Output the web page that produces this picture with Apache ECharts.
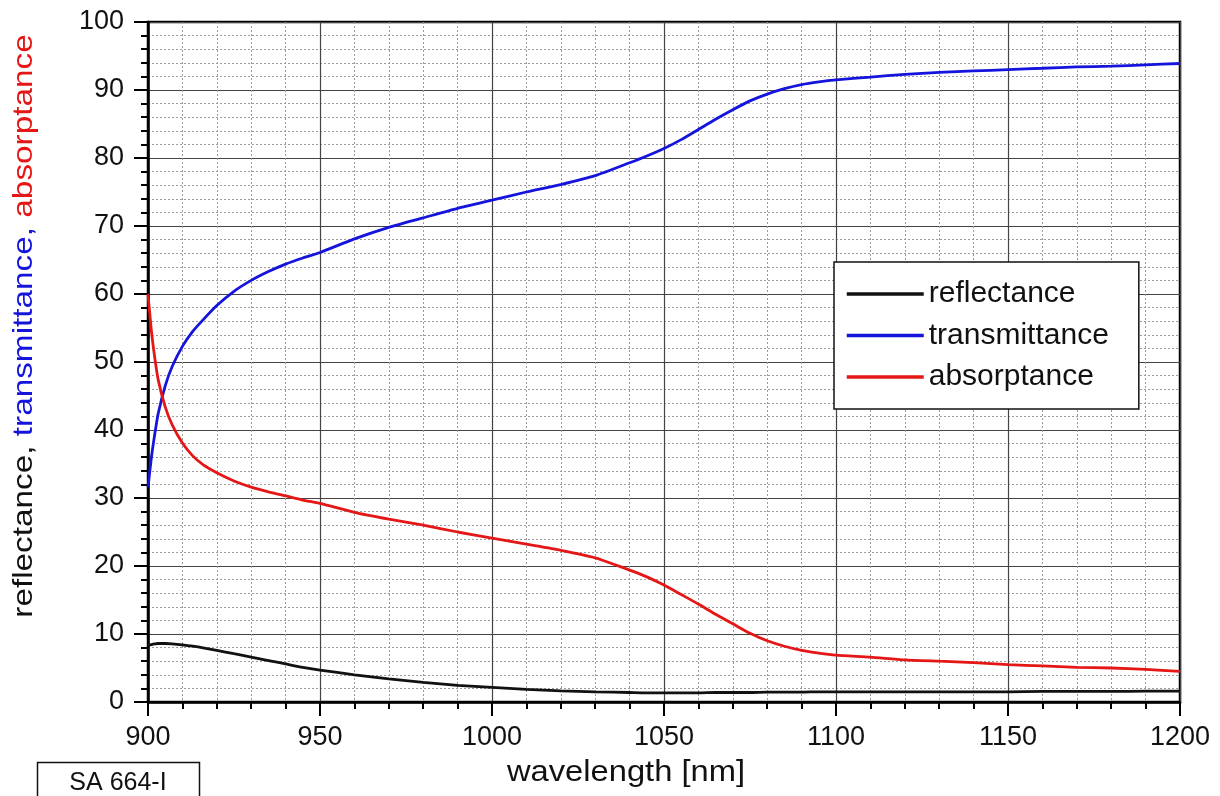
<!DOCTYPE html>
<html>
<head>
<meta charset="utf-8">
<script src="https://cdn.jsdelivr.net/npm/echarts@6/dist/echarts.min.js"></script>
<style>
html,body{margin:0;padding:0;background:#fff;}
#chart{width:1220px;height:796px;}
</style>
</head>
<body>
<div id="chart"></div>
<script>
// wavelength [nm]
var wavelength = [900,901,902,903,905,907,910,913,916,920,925,930,935,940,945,950,960,970,980,990,1000,1010,1020,1030,1040,1045,1050,1055,1060,1065,1070,1075,1080,1085,1090,1095,1100,1110,1120,1130,1140,1150,1160,1170,1180,1190,1200];
var reflectance = [8.3,8.45,8.55,8.6,8.6,8.55,8.4,8.2,7.95,7.6,7.1,6.6,6.1,5.6,5.1,4.7,4.0,3.4,2.9,2.45,2.15,1.85,1.65,1.5,1.4,1.35,1.35,1.35,1.35,1.4,1.4,1.4,1.45,1.45,1.45,1.5,1.5,1.5,1.5,1.5,1.5,1.5,1.55,1.55,1.55,1.6,1.6];
var transmittance = [31.6,36,39.5,42.5,46.5,49.3,52.3,54.5,56.2,58.3,60.4,62.0,63.3,64.4,65.3,66.1,68.1,69.8,71.2,72.6,73.8,75,76.1,77.4,79.3,80.3,81.4,82.7,84.2,85.7,87.1,88.4,89.4,90.2,90.8,91.2,91.5,91.9,92.3,92.6,92.8,93,93.2,93.4,93.5,93.7,93.9];
var absorptance = [60,54.5,50.5,47.3,43.4,40.8,38.1,36.2,34.9,33.7,32.5,31.6,30.9,30.3,29.7,29.2,27.9,26.9,26,25,24.1,23.2,22.3,21.2,19.4,18.4,17.2,15.8,14.4,12.9,11.5,10.1,9,8.2,7.6,7.2,6.9,6.6,6.2,6,5.8,5.5,5.3,5.1,5,4.8,4.5];
var seriesNames = ['reflectance','transmittance','absorptance'];
var xTitle = 'wavelength [nm]';
var sampleLabel = 'SA 664-I';

function pairs(ys){ return wavelength.map(function(w,i){ return [w, ys[i]]; }); }

var FONT = '"Liberation Sans", Arial, Helvetica, sans-serif';
var chart = echarts.init(document.getElementById('chart'), null, {renderer:'canvas'});
var option = {
  backgroundColor:'#ffffff',
  animation:false,
  textStyle:{fontFamily:FONT},
  grid:{left:148,right:40,top:22,bottom:94,show:true,borderColor:'#000',borderWidth:2.5,backgroundColor:'transparent'},
  xAxis:{
    type:'value',min:900,max:1200,interval:50,
    axisLine:{show:true,onZero:false,lineStyle:{color:'#000',width:2.5}},
    axisTick:{show:true,inside:false,length:14,lineStyle:{color:'#000',width:2}},
    minorTick:{show:true,splitNumber:5,length:7,lineStyle:{color:'#000',width:2}},
    axisLabel:{fontSize:27,color:'#111',margin:22,fontFamily:FONT,formatter:function(v){return String(v);}},
    splitLine:{show:true,lineStyle:{color:'#444',width:1.2}},
    minorSplitLine:{show:true,lineStyle:{color:'#9a9a9a',width:1,type:[2,2]}}
  },
  yAxis:{
    type:'value',min:0,max:100,interval:10,
    axisLine:{show:true,onZero:false,lineStyle:{color:'#000',width:2.5}},
    axisTick:{show:true,inside:false,length:14,lineStyle:{color:'#000',width:2}},
    minorTick:{show:true,splitNumber:5,length:7,lineStyle:{color:'#000',width:2}},
    axisLabel:{fontSize:27,color:'#111',margin:24,fontFamily:FONT,formatter:function(v){return String(v);}},
    splitLine:{show:true,lineStyle:{color:'#444',width:1.2}},
    minorSplitLine:{show:true,lineStyle:{color:'#9a9a9a',width:1,type:[2,2]}}
  },
  legend:{
    orient:'vertical',left:834,top:262,
    padding:[17,30,17,11],
    itemWidth:77,itemHeight:14,itemGap:11.5,
    backgroundColor:'#fff',borderColor:'#111',borderWidth:1.5,
    itemStyle:{opacity:0},
    lineStyle:{width:3.5},
    textStyle:{fontSize:30,color:'#111',lineHeight:30,fontFamily:FONT},
    data:seriesNames
  },
  series:[
    {name:seriesNames[0],type:'line',data:pairs(reflectance),symbol:'none',smooth:0.2,lineStyle:{color:'#111',width:2.8},itemStyle:{color:'#111'},z:3},
    {name:seriesNames[1],type:'line',data:pairs(transmittance),symbol:'none',smooth:0.2,lineStyle:{color:'#1414dc',width:2.8},itemStyle:{color:'#1414dc'},z:3},
    {name:seriesNames[2],type:'line',data:pairs(absorptance),symbol:'none',smooth:0.2,lineStyle:{color:'#e41616',width:2.8},itemStyle:{color:'#e41616'},z:3}
  ],
  graphic:[
    {type:'text',x:24,y:326,rotation:Math.PI/2,scaleX:1.19,scaleY:1,
     style:{text:'{r|reflectance, }{t|transmittance, }{a|absorptance}',
       align:'center',verticalAlign:'middle',font:'28px '+FONT,
       rich:{r:{fill:'#111',fontSize:28,fontFamily:FONT},t:{fill:'#1414dc',fontSize:28,fontFamily:FONT},a:{fill:'#e41616',fontSize:28,fontFamily:FONT}}}},
    {type:'text',x:626,y:773,scaleX:1.09,
     style:{text:xTitle,align:'center',verticalAlign:'middle',font:'30px '+FONT,fill:'#111'}},
    {type:'rect',shape:{x:37.5,y:762.5,width:162,height:50},style:{fill:'#fff',stroke:'#111',lineWidth:1.5}},
    {type:'text',x:118,y:783,
     style:{text:sampleLabel,align:'center',verticalAlign:'middle',font:'25px '+FONT,fill:'#111'}}
  ]
};
chart.setOption(option);
</script>
</body>
</html>
